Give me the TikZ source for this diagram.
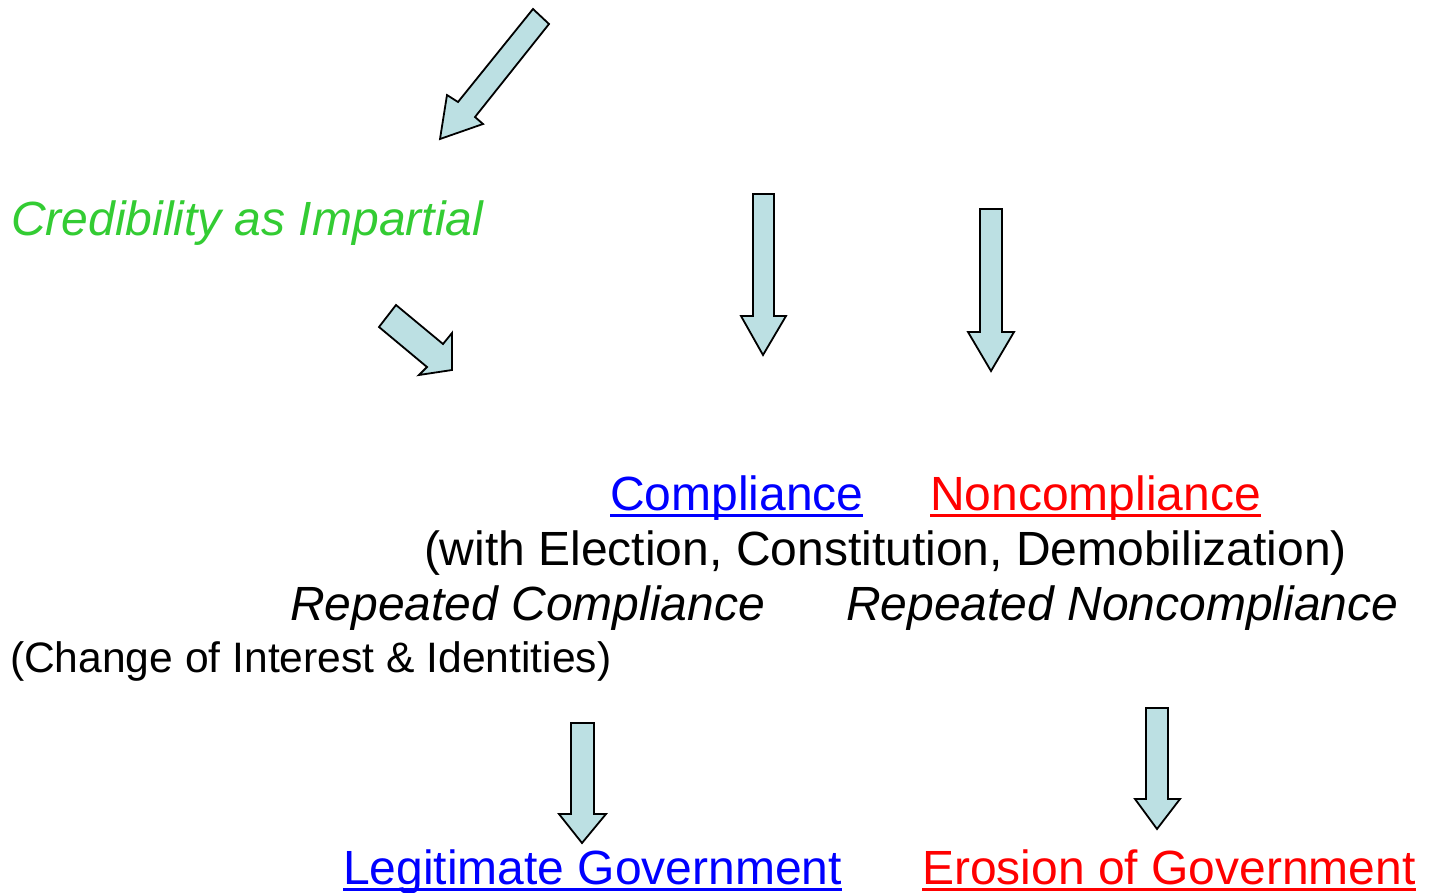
\documentclass[tikz,border=0pt]{standalone}
\usepackage{fontspec}
\setmainfont{Liberation Sans}
\definecolor{arrowfill}{RGB}{188,224,227}
\definecolor{credgreen}{RGB}{51,204,51}
\definecolor{linkblue}{RGB}{0,0,255}
\definecolor{linkred}{RGB}{255,0,0}
\begin{document}
\begin{tikzpicture}[x=1pt,y=-1pt,
  blockarrow/.style={fill=arrowfill,draw=black,line width=1.8pt,line join=miter},
  txt/.style={anchor=base west,inner sep=0pt,outer sep=0pt,font=\fontsize{48}{58}\selectfont},
  smalltxt/.style={anchor=base west,inner sep=0pt,outer sep=0pt,font=\fontsize{42.6}{52}\selectfont},
  uline/.style={line width=3.5pt}]
\path[use as bounding box,fill=white] (0,0) rectangle (1433,892);

% block arrows
\draw[blockarrow] (533,9) -- (549,24) -- (475,117) -- (483,124) -- (440,139) -- (447,95) -- (458,102) -- cycle;
\draw[blockarrow] (396,305) -- (443,344) -- (452,333) -- (452,370) -- (419,375) -- (427,367) -- (379,327) -- cycle;
\draw[blockarrow] (753,194) -- (774,194) -- (774,316) -- (786,316) -- (763,355) -- (741,316) -- (753,316) -- cycle;
\draw[blockarrow] (980,209) -- (1002,209) -- (1002,332) -- (1014,332) -- (991,371) -- (968,332) -- (980,332) -- cycle;
\draw[blockarrow] (571,723) -- (594,723) -- (594,814) -- (606,814) -- (582,843) -- (559,814) -- (571,814) -- cycle;
\draw[blockarrow] (1146,708) -- (1168,708) -- (1168,799) -- (1180,799) -- (1157,829) -- (1135,799) -- (1146,799) -- cycle;

% texts
\node[txt,text=credgreen,font=\fontsize{48}{58}\selectfont\itshape] (cred) at (11,235) {Credibility as Impartial};
\node[txt,text=linkblue] (comp) at (610,510) {Compliance};
\node[txt,text=linkred] (noncomp) at (930,510) {Noncompliance};
\node[txt] (with) at (424,565) {(with Election, Constitution, Demobilization)};
\node[txt,font=\fontsize{48}{58}\selectfont\itshape] (repc) at (290,620) {Repeated Compliance};
\node[txt,font=\fontsize{48}{58}\selectfont\itshape] (repn) at (846,620) {Repeated Noncompliance};
\node[smalltxt] (change) at (10,672) {(Change of Interest \& Identities)};
\node[txt,text=linkblue] (legit) at (343,884) {Legitimate Government};
\node[txt,text=linkred] (erosion) at (922,884) {Erosion of Government};

% underlines
\draw[uline,linkblue] ([yshift=-5.5pt]comp.base west) -- ([yshift=-5.5pt]comp.base east);
\draw[uline,linkred] ([yshift=-5.5pt]noncomp.base west) -- ([yshift=-5.5pt]noncomp.base east);
\draw[uline,linkblue] ([yshift=-5.5pt]legit.base west) -- ([yshift=-5.5pt]legit.base east);
\draw[uline,linkred] ([yshift=-5.5pt]erosion.base west) -- ([yshift=-5.5pt]erosion.base east);
\end{tikzpicture}
\end{document}
